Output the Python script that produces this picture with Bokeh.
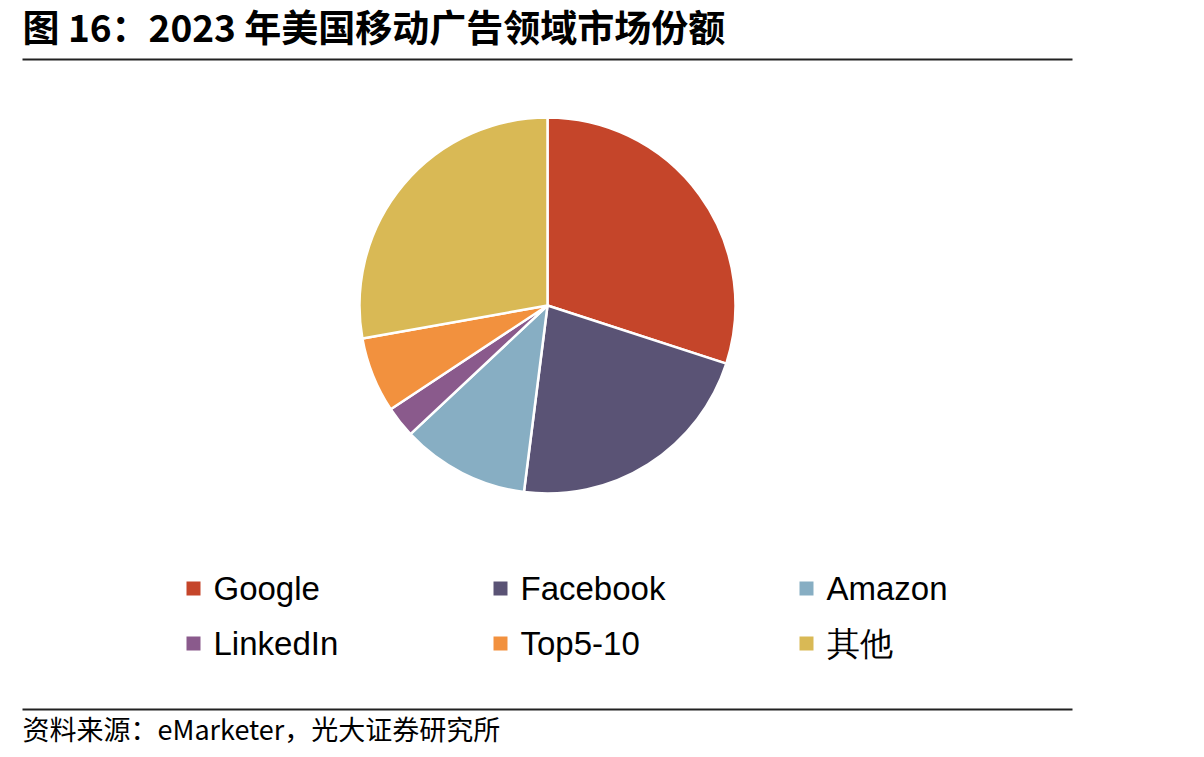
import numpy as np
from bokeh.plotting import figure
from bokeh.models import Range1d
from bokeh.core.properties import value
from bokeh.embed import file_html
from bokeh.resources import INLINE

# Data
categories = ["Google", "Facebook", "Amazon", "LinkedIn", "Top5-10", "其他"]
shares = [30.0, 22.0, 11.0, 2.7, 6.5, 27.8]
colors = ["#C5452A", "#5A5375", "#87AEC3", "#8A5A8C", "#F2913E", "#D9B955"]

title_text = "图 16：2023 年美国移动广告领域市场份额"
source_text = "资料来源：eMarketer，光大证券研究所"

W, H = 1204, 757
def Y(py):
    return H - py

p = figure(width=W, height=H, x_range=Range1d(0, W), y_range=Range1d(0, H),
           output_backend="svg", toolbar_location=None, min_border=0,
           outline_line_color=None, background_fill_color="white")
p.axis.visible = False
p.grid.visible = False

# Pie
vals = np.array(shares, dtype=float)
frac = vals / vals.sum()
cum = np.concatenate([[0], np.cumsum(frac)])
start = np.pi / 2 - cum[:-1] * 2 * np.pi
end = np.pi / 2 - cum[1:] * 2 * np.pi
cx, cy, r = 547, Y(305), 188
p.wedge(x=cx, y=cy, radius=r, start_angle=list(start), end_angle=list(end),
        direction="clock", fill_color=colors, line_color="white", line_width=2.5)

# Legend
col_x = [186, 493, 799]
row_y = [588, 643]
lx = [col_x[i % 3] for i in range(len(categories))]
ly = [Y(row_y[i // 3]) for i in range(len(categories))]
p.rect(x=[x + 7 for x in lx], y=ly, width=14, height=14, fill_color=colors, line_color=None)
p.text(x=[x + 27 for x in lx], y=ly, text=categories, text_font=value("Liberation Sans"),
       text_font_size="33px", text_baseline="middle", text_align="left", text_color="black")

# Title and rules
p.text(x=[22], y=[Y(25)], text=[title_text], text_font=value("Noto Sans CJK SC"),
       text_font_style="bold", text_font_size="37px", text_baseline="middle", text_color="black")
p.line(x=[22, 1072], y=[Y(59), Y(59)], line_color="#222222", line_width=2)
p.line(x=[22, 1072], y=[Y(709), Y(709)], line_color="#222222", line_width=2)
p.text(x=[22], y=[Y(728)], text=[source_text], text_font=value("Noto Sans CJK SC"),
       text_font_size="27px", text_baseline="middle", text_color="black")

open("out.html", "w").write(file_html(p, INLINE))
